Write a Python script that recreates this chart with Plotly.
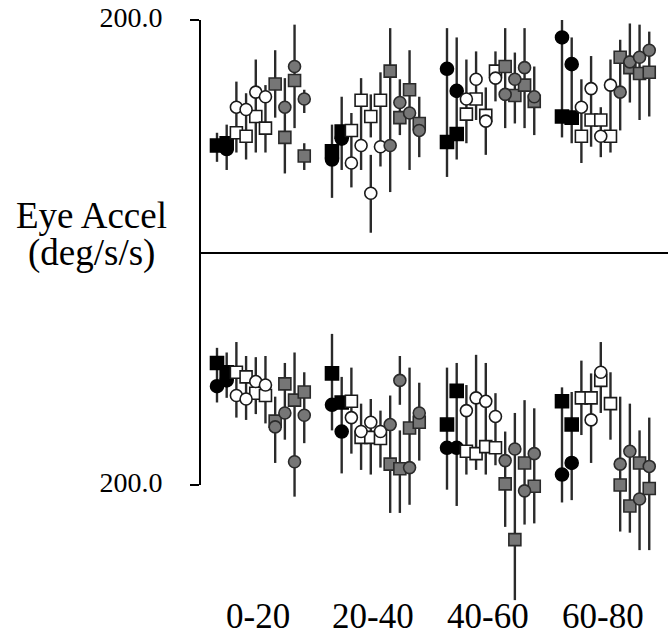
import plotly.graph_objects as go

# ---------------- data (values in deg/s/s; lower half drawn negative) ----------------
GROUPS = ["0-20", "20-40", "40-60", "60-80"]
N = None

# marker values per group (rows) and slot (columns 0..9)
BC_UP = [[N, 89, N, N, N, N, N, N, N, N],
         [80, 98, N, N, N, N, N, N, N, N],
         [158, 139, N, N, N, N, N, N, N, N],
         [185, 162, N, N, N, N, N, N, N, N]]
BS_UP = [[92, 94, N, N, N, N, N, N, N, N],
         [87, 104, N, N, N, N, N, N, N, N],
         [95, 102, N, N, N, N, N, N, N, N],
         [117, 116, N, N, N, N, N, N, N, N]]
WC_UP = [[N, N, 125, 123, 138, 134, N, N, N, N],
         [N, N, 77, 92, 51, 91, N, N, N, N],
         [N, N, 132, 149, 113, 150, N, N, N, N],
         [N, N, 125, 141, 100, 144, N, N, N, N]]
WS_UP = [[N, N, 103, 100, 117, 107, N, N, N, N],
         [N, N, 105, 131, 117, 131, N, N, N, N],
         [N, N, 119, 132, 118, 156, N, N, N, N],
         [N, N, 100, 114, 114, 100, N, N, N, N]]
GC_UP = [[N, N, N, N, N, N, N, 125, 160, 132],
         [N, N, N, N, N, N, 92, 129, 120, 105],
         [N, N, N, N, N, N, 136, 149, 159, 134],
         [N, N, N, N, N, N, 138, 164, 168, 174]]
GS_UP = [[N, N, N, N, N, N, 145, 99, 148, 83],
         [N, N, N, N, N, N, 156, 116, 140, 111],
         [N, N, N, N, N, N, 160, 135, 144, 130],
         [N, N, N, N, N, N, 168, 159, 154, 155]]

BC_LO = [[-115, -110, N, N, N, N, N, N, N, N],
         [-131, -154, N, N, N, N, N, N, N, N],
         [-168, -168, N, N, N, N, N, N, N, N],
         [-191, -181, N, N, N, N, N, N, N, N]]
BS_LO = [[-95, -103, N, N, N, N, N, N, N, N],
         [-104, -129, N, N, N, N, N, N, N, N],
         [-148, -119, N, N, N, N, N, N, N, N],
         [-128, -148, N, N, N, N, N, N, N, N]]
WC_LO = [[N, N, -123, -126, -111, -114, N, N, N, N],
         [N, N, -142, -154, -146, -154, N, N, N, N],
         [N, N, -136, -125, -128, -141, N, N, N, N],
         [N, N, N, -144, -103, N, N, N, N, N]]
WS_LO = [[N, N, -103, -107, -121, -123, N, N, N, N],
         [N, N, -128, -159, -159, -160, N, N, N, N],
         [N, N, -171, -173, -167, -168, N, N, N, N],
         [N, N, -125, -125, -110, -130, N, N, N, N]]
GC_LO = [[N, N, N, N, N, N, -150, -138, -180, -140],
         [N, N, N, N, N, N, -148, -110, -185, -138],
         [N, N, N, N, N, N, -179, -169, -205, -173],
         [N, N, N, N, N, N, -182, -171, -212, -184]]
GS_LO = [[N, N, N, N, N, N, -145, -113, -127, -120],
         [N, N, N, N, N, N, -182, -186, -151, -146],
         [N, N, N, N, N, N, -199, -247, -181, -201],
         [N, N, N, N, N, N, -200, -218, -181, -203]]

# error-bar extents (top, bottom) per group and slot
UP_TOP = [[103, 110, 147, 137, 166, 144, 174, 150, 196, 140],
          [110, 134, 120, 150, 136, 155, 193, 149, 174, 134],
          [193, 185, 166, 173, 142, 173, 193, 172, 193, 160],
          [200, 185, 149, 169, 125, 166, 183, 197, 196, 190]]
UP_BOT = [[78, 71, 86, 80, 86, 86, 116, 68, 107, 120],
          [47, 71, 56, 71, 99, 74, 52, 101, 71, 82],
          [65, 80, 94, 114, 84, 130, 107, 111, 107, 101],
          [99, 94, 77, 91, 82, 86, 105, 129, 114, 117]]
LO_TOP = [[-82, -86, -77, -89, -90, -89, -124, -95, -86, -103],
          [-70, -107, -99, -130, -126, -136, -123, -89, -99, -112],
          [-99, -95, -114, -88, -95, -121, -154, -138, -127, -134],
          [-116, -120, -93, -104, -77, -103, -124, -130, -153, -142]]
LO_BOT = [[-129, -125, -142, -144, -139, -147, -181, -161, -210, -164],
          [-153, -190, -173, -187, -191, -185, -224, -131, -217, -179],
          [-204, -218, -191, -187, -191, -183, -236, -299, -234, -233],
          [-215, -213, -157, -181, -138, -161, -240, -241, -256, -256]]
# additional separate bar segments: (group, slot, top, bottom)
EXTRA_BARS = [(0, 9, 94, 71), (1, 4, 84, 17), (1, 7, -153, -224)]

Y_TICKS = [200, -200]
Y_TICKTEXT = ["200.0", "200.0"]

# ---------------- layout helpers ----------------
SLOT_STEP = 0.0843
FONT = "Liberation Serif"


def xpos(g, s):
    return g + s * SLOT_STEP


fig = go.Figure()

# error bars
bx, by = [], []
for top_m, bot_m in ((UP_TOP, UP_BOT), (LO_TOP, LO_BOT)):
    for g in range(len(GROUPS)):
        for s in range(10):
            bx += [xpos(g, s), xpos(g, s), None]
            by += [top_m[g][s], bot_m[g][s], None]
for g, s, t, b in EXTRA_BARS:
    bx += [xpos(g, s), xpos(g, s), None]
    by += [t, b, None]
fig.add_trace(go.Scatter(x=bx, y=by, mode="lines", hoverinfo="skip",
                         line=dict(color="#2a2a2a", width=2.4), showlegend=False))

SERIES = [
    (BS_UP, BS_LO, "square", "black", "black", 13),
    (BC_UP, BC_LO, "circle", "black", "black", 13),
    (WS_UP, WS_LO, "square", "white", "#1a1a1a", 12),
    (WC_UP, WC_LO, "circle", "white", "#1a1a1a", 12),
    (GS_UP, GS_LO, "square", "#767676", "#2a2a2a", 12),
    (GC_UP, GC_LO, "circle", "#767676", "#2a2a2a", 12),
]
for up, lo, sym, fill, edge, size in SERIES:
    xs, ys = [], []
    for mat in (up, lo):
        for g in range(len(GROUPS)):
            for s in range(10):
                v = mat[g][s]
                if v is not None:
                    xs.append(xpos(g, s))
                    ys.append(v)
    fig.add_trace(go.Scatter(x=xs, y=ys, mode="markers", showlegend=False,
                             marker=dict(symbol=sym, size=size, color=fill,
                                         line=dict(color=edge, width=1.6))))

# vertical axis line between the two 200.0 ticks
fig.add_shape(type="line", xref="paper", yref="y", x0=0, x1=0,
              y0=min(Y_TICKS), y1=max(Y_TICKS), line=dict(color="black", width=2))

# category labels
for g, name in enumerate(GROUPS):
    fig.add_annotation(x=g + 0.36, y=-313.5, xref="x", yref="y", text=name,
                       showarrow=False, xanchor="center", yanchor="middle",
                       font=dict(family=FONT, size=35, color="black"))

# y title
fig.add_annotation(x=-0.2329, y=32, xref="paper", yref="y", text="Eye Accel",
                   showarrow=False, xanchor="center", yanchor="middle",
                   font=dict(family=FONT, size=37, color="black"))
fig.add_annotation(x=-0.2329, y=0, xref="paper", yref="y", text="(deg/s/s)",
                   showarrow=False, xanchor="center", yanchor="middle",
                   font=dict(family=FONT, size=37, color="black"))

fig.update_layout(
    width=668, height=635,
    margin=dict(l=200, r=0, t=0, b=0),
    paper_bgcolor="white", plot_bgcolor="white",
    xaxis=dict(range=[-0.1478, 3.9217], visible=False),
    yaxis=dict(range=[-329.0, 217.2], tickvals=Y_TICKS, ticktext=Y_TICKTEXT,
               ticks="outside", ticklen=9, tickwidth=2, tickcolor="black",
               showgrid=False, showline=False,
               zeroline=True, zerolinecolor="black", zerolinewidth=1.5,
               ticklabelstandoff=22, ticklabelshift=-3,
               tickfont=dict(family=FONT, size=28, color="black")),
)

fig.write_html("out.html")
